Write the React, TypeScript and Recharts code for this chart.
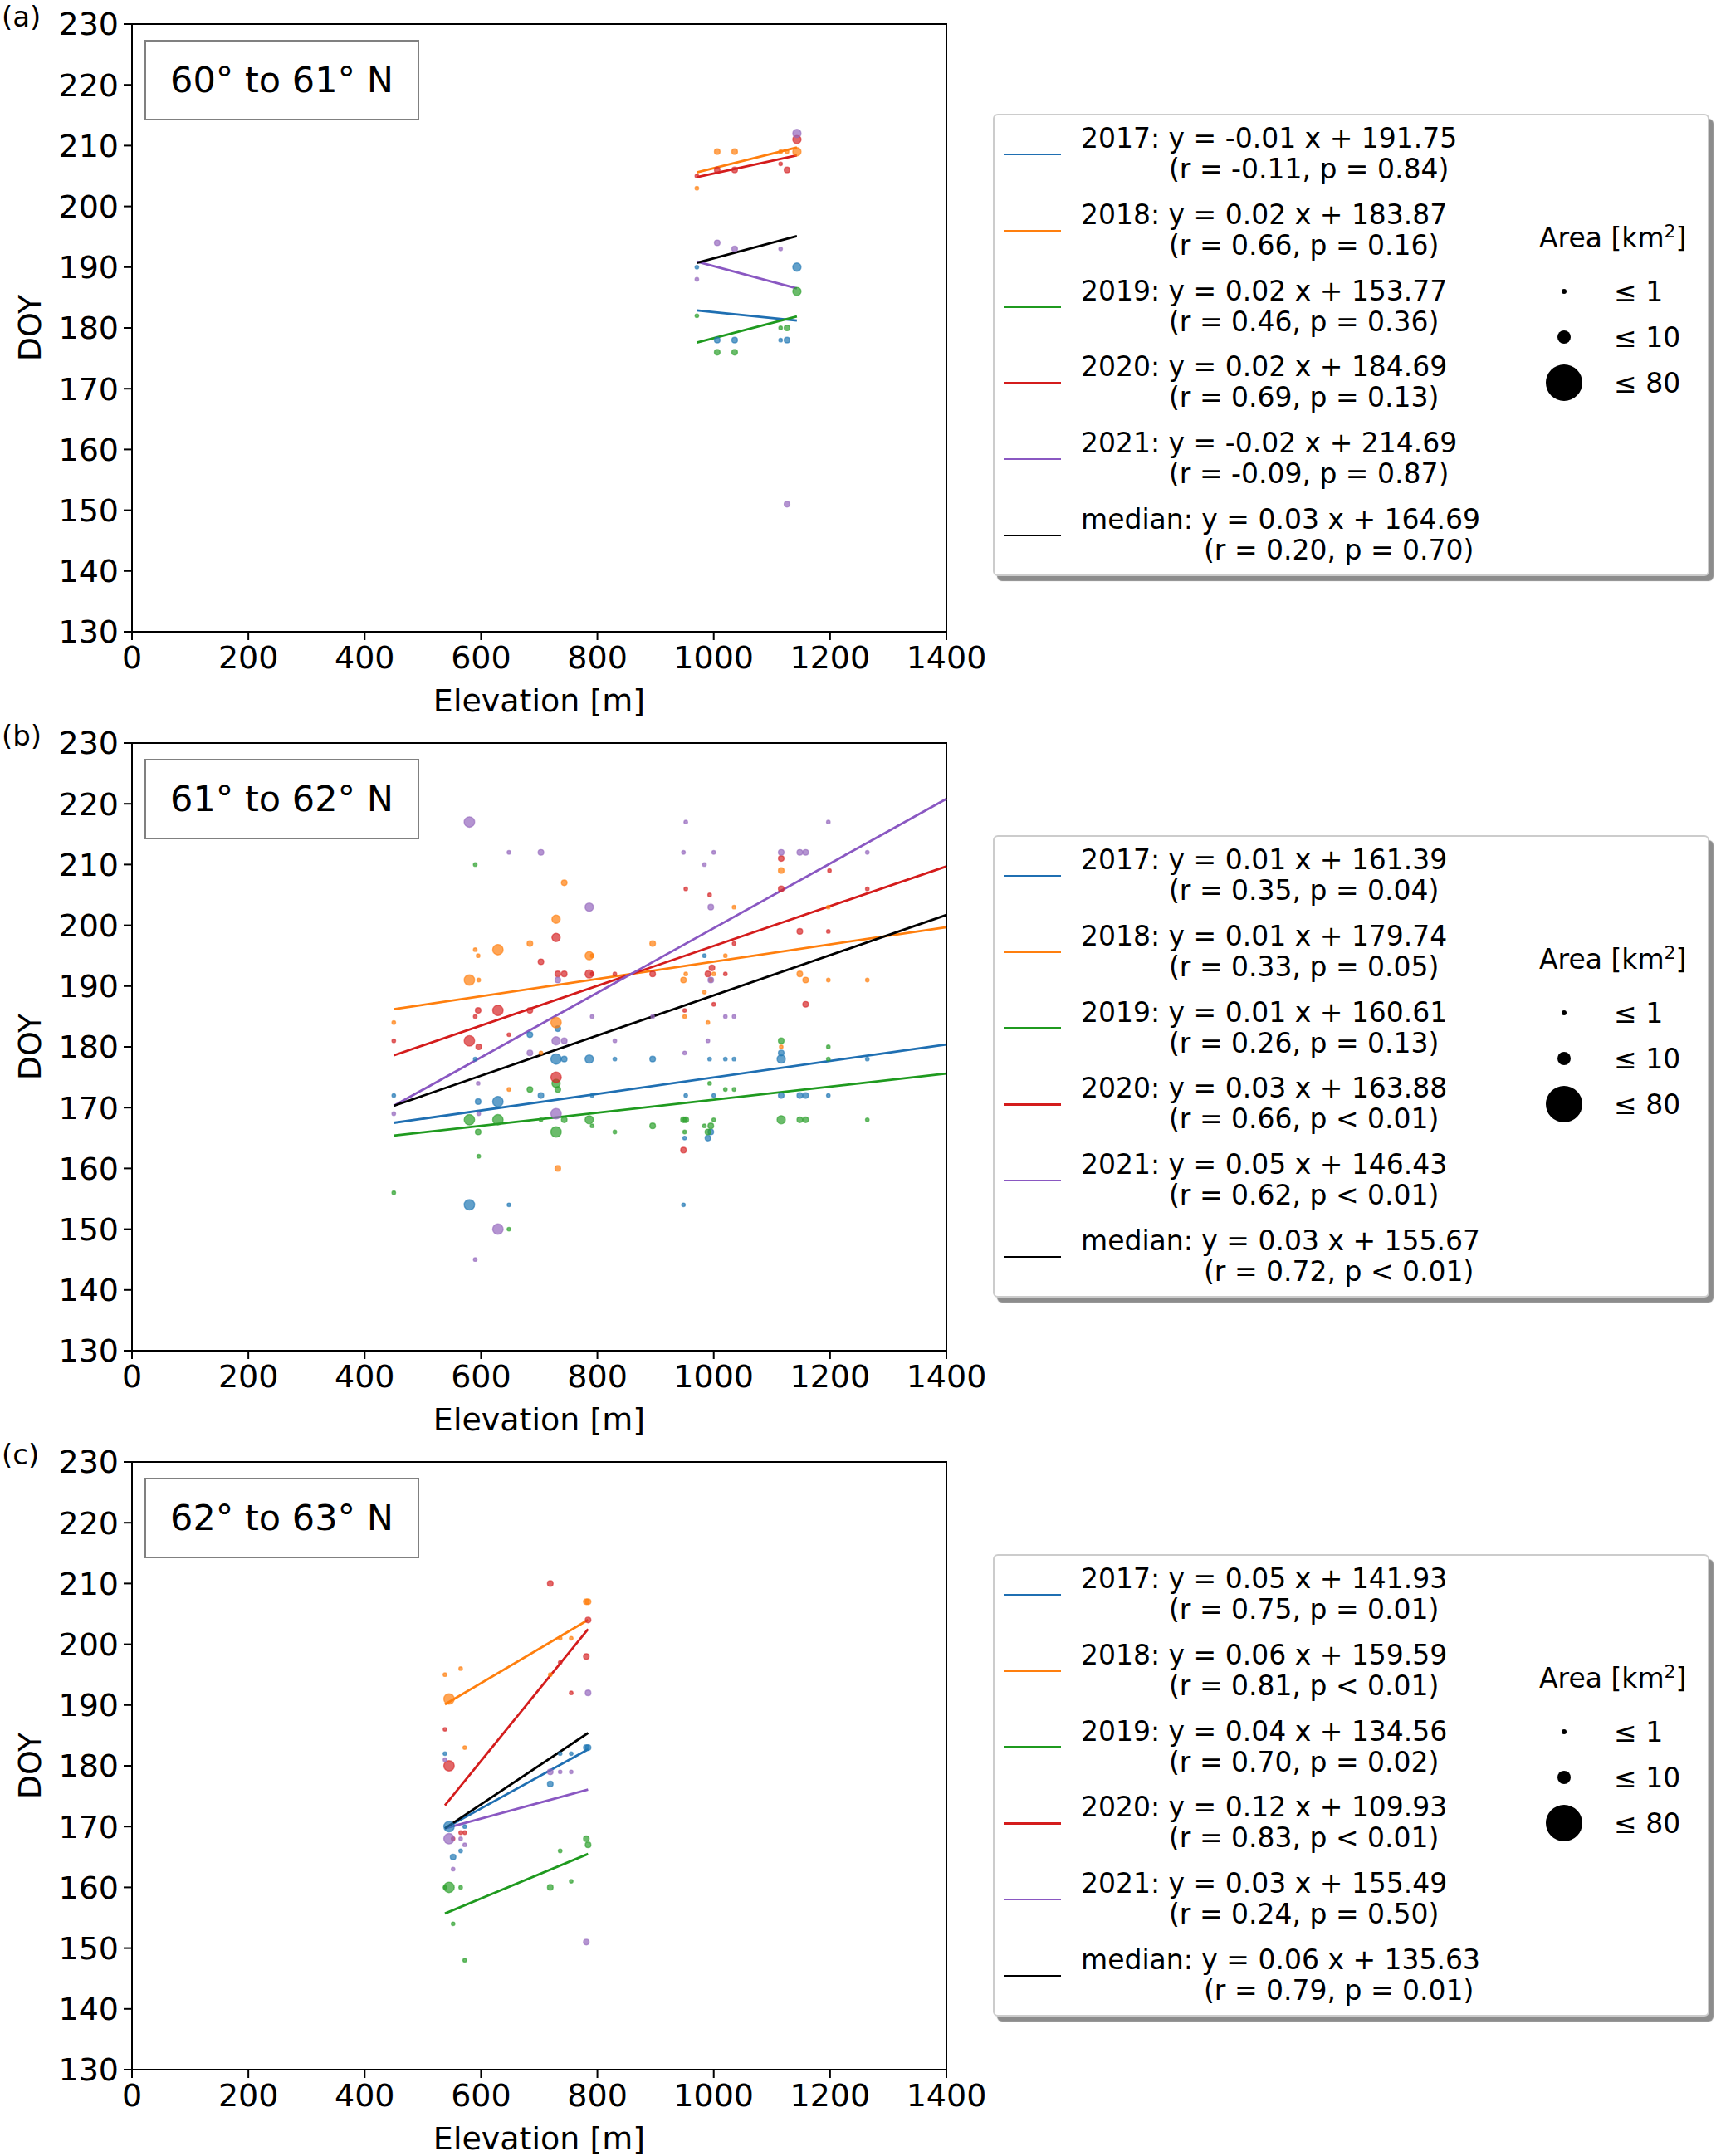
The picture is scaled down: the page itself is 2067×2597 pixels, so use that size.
import {
  ComposedChart,
  ReferenceArea,
  ReferenceLine,
  Scatter,
  XAxis,
  YAxis,
} from "recharts";

// point tuples: [elevation m, DOY, size class]
type Pt = [number, number, number];

const YEARS = ["2017", "2018", "2019", "2020", "2021"];
const COLORS = ["#1f77b4", "#ff7f0e", "#2ca02c", "#d62728", "#9467bd"];
const LINE_COLORS = ["#1f6fb2", "#ff7f0e", "#1f9a1f", "#d41c1c", "#8a58c2", "#000000"];
const X_TICKS = [0, 200, 400, 600, 800, 1000, 1200, 1400];
const Y_TICKS = [130, 140, 150, 160, 170, 180, 190, 200, 210, 220, 230];
const RADIUS = [0, 2.2, 3.4, 5, 6.3];

// ---- panel (a) 60-61 N
const A_2017: Pt[] = [[971, 190, 1], [1006, 178, 2], [1036, 178, 2], [1115, 178, 1], [1126, 178, 2], [1143, 190, 3]];
const A_2018: Pt[] = [[971, 203, 1], [1006, 209, 2], [1036, 209, 2], [1115, 209, 1], [1126, 209, 1], [1143, 209, 3]];
const A_2019: Pt[] = [[971, 182, 1], [1006, 176, 2], [1036, 176, 2], [1115, 180, 1], [1126, 180, 2], [1143, 186, 3]];
const A_2020: Pt[] = [[971, 205, 1], [1006, 206, 2], [1036, 206, 2], [1115, 207, 1], [1126, 206, 2], [1143, 211, 3]];
const A_2021: Pt[] = [[971, 188, 1], [1006, 194, 2], [1036, 193, 2], [1115, 193, 1], [1126, 151, 2], [1143, 212, 3]];
// fit lines: [x0, y0, x1, y1] for 2017..2021, median
const A_FITS = [
  [971, 182.9, 1143, 181.2],
  [971, 205.6, 1143, 209.7],
  [971, 177.6, 1143, 181.9],
  [971, 204.8, 1143, 208.4],
  [971, 190.9, 1143, 186.5],
  [971, 190.7, 1143, 195.1],
];
const A_EQ = [
  ["2017: y = -0.01 x + 191.75", "(r = -0.11, p = 0.84)"],
  ["2018: y = 0.02 x + 183.87", "(r = 0.66, p = 0.16)"],
  ["2019: y = 0.02 x + 153.77", "(r = 0.46, p = 0.36)"],
  ["2020: y = 0.02 x + 184.69", "(r = 0.69, p = 0.13)"],
  ["2021: y = -0.02 x + 214.69", "(r = -0.09, p = 0.87)"],
  ["median: y = 0.03 x + 164.69", "(r = 0.20, p = 0.70)"],
];

// ---- panel (b) 61-62 N
const B_2017: Pt[] = [
  [984, 195, 1], [732, 183, 2], [684, 182, 2], [590, 178, 1], [729, 178, 4], [743, 178, 2], [786, 178, 3],
  [830, 178, 1], [895, 178, 2], [993, 178, 1], [1020, 178, 1], [1035, 178, 1], [1116, 179, 2], [1116, 178, 3],
  [1264, 178, 1], [450, 172, 1], [703, 172, 2], [791, 172, 1], [952, 172, 1], [1000, 172, 1], [1116, 172, 2],
  [1148, 172, 2], [1158, 172, 2], [1197, 172, 1], [595, 171, 2], [629, 171, 4], [950, 165, 1], [990, 165, 2],
  [995, 166, 2], [580, 154, 4], [648, 154, 1], [948, 154, 1],
];
const B_2018: Pt[] = [
  [1116, 209, 2], [743, 207, 2], [729, 201, 3], [1035, 203, 1], [1197, 203, 1], [629, 196, 4], [590, 196, 1],
  [595, 195, 1], [684, 197, 2], [895, 197, 2], [786, 195, 3], [791, 195, 1], [1020, 195, 1], [580, 191, 4],
  [596, 191, 1], [952, 192, 1], [948, 191, 2], [1000, 192, 1], [995, 191, 1], [1148, 192, 2], [1158, 191, 2],
  [1197, 191, 1], [1264, 191, 1], [984, 189, 1], [450, 184, 1], [729, 184, 4], [950, 185, 1], [990, 184, 1],
  [703, 179, 1], [1116, 180, 1], [648, 173, 1], [732, 160, 2],
];
const B_2019: Pt[] = [
  [590, 210, 1], [1116, 181, 2], [1197, 180, 1], [1197, 178, 1], [993, 174, 1], [684, 173, 2], [732, 173, 2],
  [729, 174, 3], [1020, 173, 1], [1035, 173, 1], [580, 168, 4], [629, 168, 4], [703, 168, 1], [743, 168, 2],
  [786, 168, 3], [948, 168, 2], [952, 168, 2], [1000, 168, 1], [1116, 168, 3], [1148, 168, 2], [1158, 168, 2],
  [1264, 168, 1], [791, 167, 1], [895, 167, 2], [984, 167, 1], [995, 167, 2], [595, 166, 2], [729, 166, 4],
  [830, 166, 1], [950, 166, 1], [990, 166, 2], [596, 162, 1], [450, 156, 1], [648, 150, 1],
];
const B_2020: Pt[] = [
  [1116, 211, 2], [1199, 209, 1], [952, 206, 1], [1116, 206, 2], [1264, 206, 1], [993, 205, 1], [729, 198, 3],
  [1148, 199, 2], [1197, 199, 1], [703, 194, 2], [1035, 197, 1], [997, 193, 2], [732, 192, 2], [743, 192, 2],
  [786, 192, 3], [791, 192, 1], [830, 192, 1], [895, 192, 2], [990, 192, 2], [1020, 192, 1], [595, 186, 2],
  [629, 186, 4], [684, 186, 2], [1000, 187, 1], [1158, 187, 2], [590, 185, 1], [950, 186, 1], [450, 181, 1],
  [580, 181, 4], [648, 182, 1], [596, 180, 2], [729, 175, 4], [948, 163, 2],
];
const B_2021: Pt[] = [
  [580, 217, 4], [952, 217, 1], [1197, 217, 1], [648, 212, 1], [703, 212, 2], [948, 212, 1], [1000, 212, 1],
  [1116, 212, 2], [1148, 212, 2], [1158, 212, 2], [1264, 212, 1], [984, 210, 1], [786, 203, 3], [995, 203, 2],
  [732, 191, 2], [995, 191, 2], [791, 185, 1], [895, 185, 1], [1020, 185, 1], [1035, 185, 1], [729, 181, 3],
  [743, 181, 2], [830, 181, 1], [990, 181, 1], [684, 179, 2], [950, 179, 1], [595, 174, 1], [596, 169, 1],
  [450, 169, 1], [729, 169, 4], [629, 150, 4], [590, 145, 1],
];
const B_FITS = [
  [450, 167.5, 1400, 180.4],
  [450, 186.2, 1400, 199.7],
  [450, 165.4, 1400, 175.6],
  [450, 178.6, 1400, 209.7],
  [450, 170.3, 1400, 220.8],
  [450, 170.3, 1400, 201.7],
];
const B_EQ = [
  ["2017: y = 0.01 x + 161.39", "(r = 0.35, p = 0.04)"],
  ["2018: y = 0.01 x + 179.74", "(r = 0.33, p = 0.05)"],
  ["2019: y = 0.01 x + 160.61", "(r = 0.26, p = 0.13)"],
  ["2020: y = 0.03 x + 163.88", "(r = 0.66, p < 0.01)"],
  ["2021: y = 0.05 x + 146.43", "(r = 0.62, p < 0.01)"],
  ["median: y = 0.03 x + 155.67", "(r = 0.72, p < 0.01)"],
];

// ---- panel (c) 62-63 N
const C_2017: Pt[] = [[781, 183, 2], [784, 183, 2], [736, 182, 1], [755, 182, 1], [719, 177, 2], [538, 182, 1], [545, 170, 4], [572, 170, 1], [565, 166, 1], [552, 165, 2]];
const C_2018: Pt[] = [[781, 207, 2], [784, 207, 2], [736, 201, 1], [755, 201, 1], [719, 195, 1], [538, 195, 1], [565, 196, 1], [545, 191, 4], [572, 183, 1]];
const C_2019: Pt[] = [[781, 168, 2], [784, 167, 2], [736, 166, 1], [755, 161, 1], [719, 160, 2], [545, 160, 4], [538, 160, 1], [565, 160, 1], [552, 154, 1], [572, 148, 1]];
const C_2020: Pt[] = [[719, 210, 2], [784, 204, 2], [781, 198, 2], [736, 197, 1], [755, 192, 1], [538, 186, 1], [545, 180, 4], [552, 168, 1], [565, 169, 1], [572, 169, 1]];
const C_2021: Pt[] = [[784, 192, 2], [719, 179, 2], [736, 179, 1], [755, 179, 1], [538, 181, 1], [545, 168, 4], [565, 168, 1], [572, 167, 1], [552, 163, 1], [781, 151, 2]];
const C_FITS = [
  [538, 169.7, 784, 182.7],
  [538, 190.1, 784, 204.0],
  [538, 155.7, 784, 165.5],
  [538, 173.5, 784, 202.5],
  [538, 169.7, 784, 176.1],
  [538, 169.7, 784, 185.4],
];
const C_EQ = [
  ["2017: y = 0.05 x + 141.93", "(r = 0.75, p = 0.01)"],
  ["2018: y = 0.06 x + 159.59", "(r = 0.81, p < 0.01)"],
  ["2019: y = 0.04 x + 134.56", "(r = 0.70, p = 0.02)"],
  ["2020: y = 0.12 x + 109.93", "(r = 0.83, p < 0.01)"],
  ["2021: y = 0.03 x + 155.49", "(r = 0.24, p = 0.50)"],
  ["median: y = 0.06 x + 135.63", "(r = 0.79, p = 0.01)"],
];

const AREA_LABELS = ["≤ 1", "≤ 10", "≤ 80"];

const PANELS = [
  { tag: "(a)", title: "60° to 61° N", top: 29, legendTop: 137, pts: [A_2017, A_2018, A_2019, A_2020, A_2021], fits: A_FITS, eq: A_EQ },
  { tag: "(b)", title: "61° to 62° N", top: 895, legendTop: 1006, pts: [B_2017, B_2018, B_2019, B_2020, B_2021], fits: B_FITS, eq: B_EQ },
  { tag: "(c)", title: "62° to 63° N", top: 1761, legendTop: 1872, pts: [C_2017, C_2018, C_2019, C_2020, C_2021], fits: C_FITS, eq: C_EQ },
];

const FONT = '"DejaVu Sans", sans-serif';
const PLOT_LEFT = 159;
const PLOT_RIGHT = 1140;
const PLOT_H = 732;
const CHART_W = 1200;

function Dot(props: any) {
  const { cx, cy, payload, fill } = props;
  if (cx == null || cy == null) return null;
  return (
    <circle
      cx={cx}
      cy={cy}
      r={RADIUS[payload.s]}
      fill={fill}
      fillOpacity={0.7}
      stroke={fill}
      strokeOpacity={0.6}
      strokeWidth={1.4}
    />
  );
}

function Panel({ p }: { p: (typeof PANELS)[number] }) {
  const axisTick = { fontSize: 38, fill: "#000", fontFamily: FONT };
  return (
    <>
      <div style={{ position: "absolute", left: 0, top: p.top - 29 }}>
        <ComposedChart
          width={CHART_W}
          height={29 + PLOT_H + 100}
          margin={{ top: 29, right: CHART_W - PLOT_RIGHT, left: 0, bottom: 0 }}
        >
          <XAxis
            type="number"
            dataKey="x"
            domain={[0, 1400]}
            ticks={X_TICKS}
            allowDataOverflow
            height={100}
            tick={axisTick}
            tickSize={10}
            tickMargin={7}
            axisLine={{ stroke: "#000", strokeWidth: 2 }}
            tickLine={{ stroke: "#000", strokeWidth: 2 }}
          />
          <YAxis
            type="number"
            dataKey="y"
            domain={[130, 230]}
            ticks={Y_TICKS}
            allowDataOverflow
            width={PLOT_LEFT}
            tick={axisTick}
            tickSize={10}
            tickMargin={6}
            axisLine={{ stroke: "#000", strokeWidth: 2 }}
            tickLine={{ stroke: "#000", strokeWidth: 2 }}
          />
          <ReferenceArea x1={0} x2={1400} y1={130} y2={230} fill="none" stroke="#000" strokeWidth={2} />
          {p.pts.map((pts, i) => (
            <Scatter
              key={YEARS[i]}
              name={YEARS[i]}
              data={pts.map(([x, y, s]) => ({ x, y, s }))}
              fill={COLORS[i]}
              shape={<Dot />}
              isAnimationActive={false}
            />
          ))}
          {p.fits.map(([x0, y0, x1, y1], i) => (
            <ReferenceLine
              key={i}
              segment={[{ x: x0, y: y0 }, { x: x1, y: y1 }]}
              stroke={LINE_COLORS[i]}
              strokeWidth={2.8}
              ifOverflow="visible"
            />
          ))}
        </ComposedChart>
      </div>

      {/* panel tag */}
      <div style={{ position: "absolute", left: 2, top: p.top - 9, transform: "translateY(-50%)", fontSize: 34, lineHeight: 1.2 }}>
        {p.tag}
      </div>
      {/* latitude box */}
      <div
        style={{
          position: "absolute",
          left: 174,
          top: p.top + 19,
          width: 331,
          height: 97,
          boxSizing: "border-box",
          border: "2.5px solid #808080",
          display: "flex",
          alignItems: "center",
          justifyContent: "center",
          fontSize: 43,
          lineHeight: 1,
        }}
      >
        {p.title}
      </div>
      {/* axis titles */}
      <div
        style={{
          position: "absolute",
          left: (PLOT_LEFT + PLOT_RIGHT) / 2,
          top: p.top + 815,
          transform: "translate(-50%, -50%)",
          fontSize: 38,
          lineHeight: 1,
          whiteSpace: "nowrap",
        }}
      >
        Elevation [m]
      </div>
      <div
        style={{
          position: "absolute",
          left: 36,
          top: p.top + PLOT_H / 2,
          transform: "translate(-50%, -50%) rotate(-90deg)",
          fontSize: 38,
          lineHeight: 1,
        }}
      >
        DOY
      </div>

      <LegendBox top={p.legendTop} eq={p.eq} />
    </>
  );
}

function LegendBox({ top, eq }: { top: number; eq: string[][] }) {
  return (
    <div
      style={{
        position: "absolute",
        left: 1196,
        top,
        width: 863,
        height: 557,
        boxSizing: "border-box",
        border: "2px solid #cccccc",
        borderRadius: 6,
        background: "#fff",
        boxShadow: "5px 6px 1px #8c8c8c",
        fontSize: 33,
      }}
    >
      {eq.map(([l1, l2], i) => {
        const y = 47 + i * 91.8;
        return (
          <div key={i}>
            <div style={{ position: "absolute", left: 11, top: y - 1.3, width: 69, height: 2.6, background: LINE_COLORS[i] }} />
            <div style={{ position: "absolute", left: 104, top: y - 38, lineHeight: "37px", whiteSpace: "nowrap" }}>
              <div>{l1}</div>
              <div style={{ paddingLeft: i === 5 ? 148 : 106 }}>{l2}</div>
            </div>
          </div>
        );
      })}
      <div style={{ position: "absolute", left: 656, top: 147, transform: "translateY(-50%)", whiteSpace: "nowrap" }}>
        Area [km<sup style={{ fontSize: 22, verticalAlign: "12px", lineHeight: 0 }}>2</sup>]
      </div>
      {AREA_LABELS.map((lab, i) => {
        const y = [212, 267, 322][i];
        const d = [6, 16, 44][i];
        return (
          <div key={lab}>
            <div
              style={{
                position: "absolute",
                left: 686 - d / 2,
                top: y - d / 2,
                width: d,
                height: d,
                borderRadius: "50%",
                background: "#000",
              }}
            />
            <div style={{ position: "absolute", left: 746, top: y, transform: "translateY(-50%)", lineHeight: 1, whiteSpace: "nowrap" }}>
              {lab}
            </div>
          </div>
        );
      })}
    </div>
  );
}

export default function App() {
  return (
    <div
      style={{
        position: "absolute",
        left: 0,
        top: 0,
        width: 2067,
        height: 2597,
        background: "#fff",
        fontFamily: FONT,
        color: "#000",
        overflow: "hidden",
      }}
    >
      {PANELS.map((p) => (
        <Panel key={p.tag} p={p} />
      ))}
    </div>
  );
}
